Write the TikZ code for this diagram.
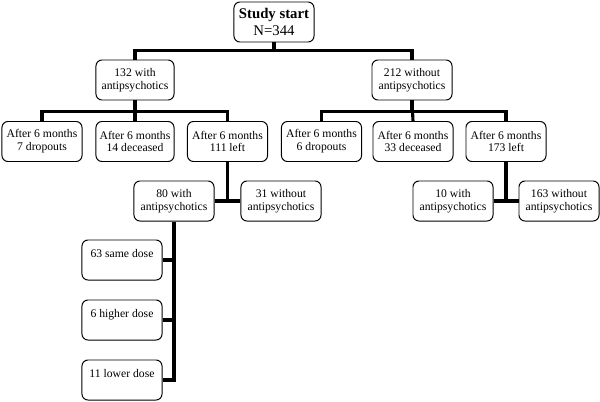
\documentclass[tikz,border=0pt]{standalone}
\usepackage{fontspec}
\setmainfont{Liberation Serif}
\usepackage{tikz}
\usetikzlibrary{calc}

\begin{document}
\begin{tikzpicture}[x=0.025cm, y=-0.025cm,
		box/.style={draw, line width=0.7pt, rounded corners=0.15cm, align=center,
			minimum width=2cm, minimum height=1cm, inner sep=1pt,
			font=\fontsize{8.3}{9.1}\selectfont},
		conn/.style={line width=2.2pt}]
		%%%%% START %%%%%
		
		\useasboundingbox (0, 0) rectangle (600, 402);
		
		\node[box, font=\fontsize{10.5}{12}\selectfont] (start) at (274, 22) {\textbf{Study start}\\N=344};
		
		\node[box, minimum width=1.95cm] (with) at (135, 80) {132 with\\antipsychotics};
		\node[box] (without) at (412, 80) {212 without\\antipsychotics};
		
		\node[box] (a1) at (42, 141.5) {After 6 months\\7 dropouts};
		\node[box, minimum width=1.95cm] (a2) at (135, 141.5) {After 6 months\\14 deceased};
		\node[box] (a3) at (227.5, 141.5) {After 6 months\\111 left};
		
		\node[box] (b1) at (321.5, 141.5) {After 6 months\\6 dropouts};
		\node[box] (b2) at (413, 141.5) {After 6 months\\33 deceased};
		\node[box] (b3) at (506, 141.5) {After 6 months\\173 left};
		
		\node[box] (c1) at (174, 201) {80 with\\antipsychotics};
		\node[box] (c2) at (281, 201) {31 without\\antipsychotics};
		
		\node[box] (e1) at (453, 201) {10 with\\antipsychotics};
		\node[box] (e2) at (559, 201) {163 without\\antipsychotics};
		
		\node[box] (d1) at (122, 260) {63 same dose\\~};
		\node[box] (d2) at (122, 320) {6 higher dose\\~};
		\node[box] (d3) at (122, 380) {11 lower dose\\~};
		
		% tree lines
		\draw[conn] (start.south) -- +(0, 8) -| (with.north);
		\draw[conn] (start.south) -- +(0, 8) -| (without.north);
		
		\draw[conn] (with.south) -- +(0, 11) -| (a1.north);
		\draw[conn] (with.south) -- +(0, 11) -| (a3.north);
		\draw[conn] (with.south) -- (a2.north);
		
		\draw[conn] (without.south) -- +(0, 11) -| (b1.north);
		\draw[conn] (without.south) -- +(0, 11) -| (b3.north);
		\draw[conn] (without.south) -- (b2.north);
		
		\draw[conn] (c1.east) -- (c2.west);
		\draw[conn] (a3.south) -- (a3.south |- c1.east);
		\draw[conn] (e1.east) -- (e2.west);
		\draw[conn] (b3.south) -- (b3.south |- e1.east);
		
		\draw[conn] (c1.south) |- (d3.east);
		\draw[conn] (d1.east) -- (d1.east -| c1.south);
		\draw[conn] (d2.east) -- (d2.east -| c1.south);
		
		%%%%% END %%%%%
	\end{tikzpicture}
\end{document}
